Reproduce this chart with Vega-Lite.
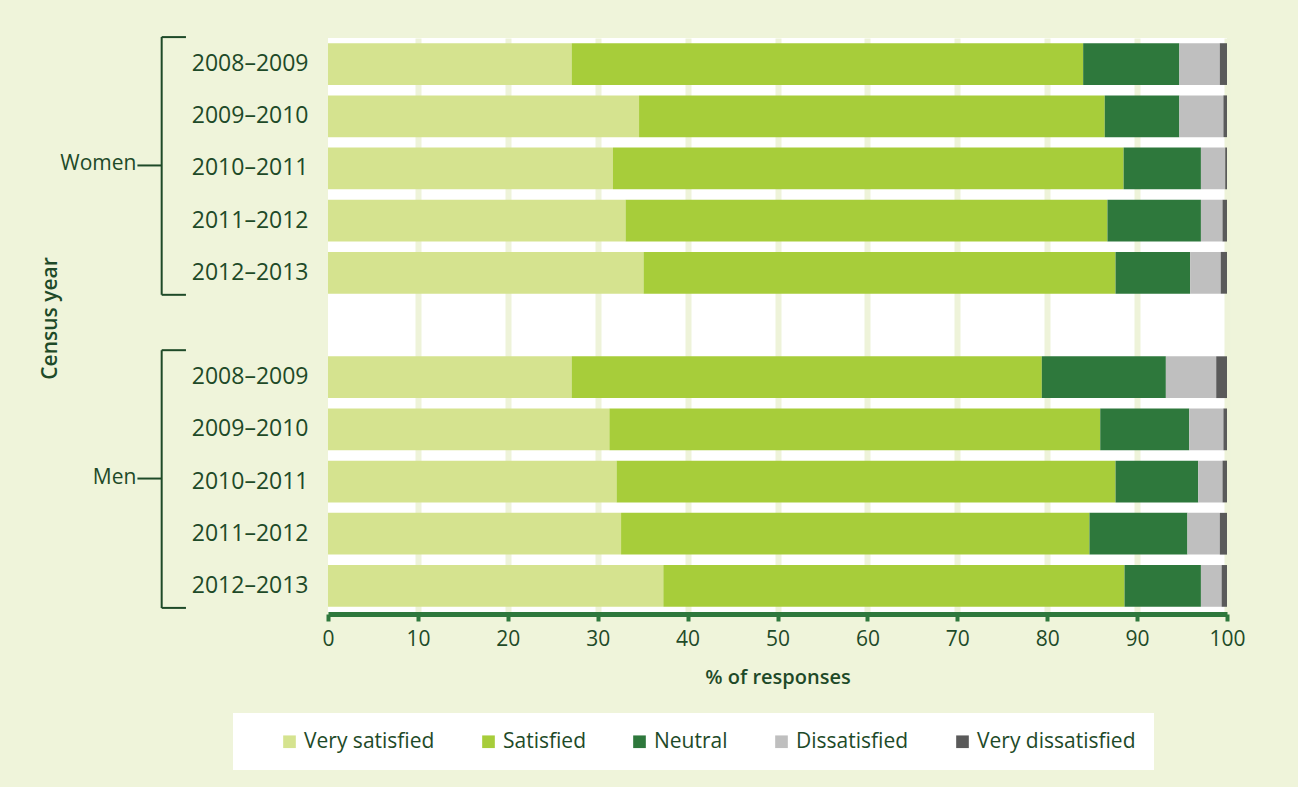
{
  "$schema": "https://vega.github.io/schema/vega-lite/v6.json",
  "autosize": {"type": "none"},
  "width": 899,
  "height": 574,
  "padding": {"left": 328, "top": 38, "right": 71, "bottom": 175},
  "background": "#eff4da",
  "config": {
    "view": {"fill": "white", "stroke": null},
    "font": "Open Sans",
    "text": {"font": "Open Sans"}
  },
  "datasets": {
    "bars": [
      {"row": "Women 2008–2009", "response": "Very satisfied", "rank": 1, "value": 27.1},
      {"row": "Women 2008–2009", "response": "Satisfied", "rank": 2, "value": 56.9},
      {"row": "Women 2008–2009", "response": "Neutral", "rank": 3, "value": 10.7},
      {"row": "Women 2008–2009", "response": "Dissatisfied", "rank": 4, "value": 4.5},
      {"row": "Women 2008–2009", "response": "Very dissatisfied", "rank": 5, "value": 0.8},
      {"row": "Women 2009–2010", "response": "Very satisfied", "rank": 1, "value": 34.6},
      {"row": "Women 2009–2010", "response": "Satisfied", "rank": 2, "value": 51.8},
      {"row": "Women 2009–2010", "response": "Neutral", "rank": 3, "value": 8.3},
      {"row": "Women 2009–2010", "response": "Dissatisfied", "rank": 4, "value": 4.9},
      {"row": "Women 2009–2010", "response": "Very dissatisfied", "rank": 5, "value": 0.4},
      {"row": "Women 2010–2011", "response": "Very satisfied", "rank": 1, "value": 31.7},
      {"row": "Women 2010–2011", "response": "Satisfied", "rank": 2, "value": 56.8},
      {"row": "Women 2010–2011", "response": "Neutral", "rank": 3, "value": 8.6},
      {"row": "Women 2010–2011", "response": "Dissatisfied", "rank": 4, "value": 2.7},
      {"row": "Women 2010–2011", "response": "Very dissatisfied", "rank": 5, "value": 0.2},
      {"row": "Women 2011–2012", "response": "Very satisfied", "rank": 1, "value": 33.1},
      {"row": "Women 2011–2012", "response": "Satisfied", "rank": 2, "value": 53.6},
      {"row": "Women 2011–2012", "response": "Neutral", "rank": 3, "value": 10.4},
      {"row": "Women 2011–2012", "response": "Dissatisfied", "rank": 4, "value": 2.4},
      {"row": "Women 2011–2012", "response": "Very dissatisfied", "rank": 5, "value": 0.5},
      {"row": "Women 2012–2013", "response": "Very satisfied", "rank": 1, "value": 35.1},
      {"row": "Women 2012–2013", "response": "Satisfied", "rank": 2, "value": 52.5},
      {"row": "Women 2012–2013", "response": "Neutral", "rank": 3, "value": 8.3},
      {"row": "Women 2012–2013", "response": "Dissatisfied", "rank": 4, "value": 3.4},
      {"row": "Women 2012–2013", "response": "Very dissatisfied", "rank": 5, "value": 0.7},
      {"row": "Men 2008–2009", "response": "Very satisfied", "rank": 1, "value": 27.1},
      {"row": "Men 2008–2009", "response": "Satisfied", "rank": 2, "value": 52.3},
      {"row": "Men 2008–2009", "response": "Neutral", "rank": 3, "value": 13.8},
      {"row": "Men 2008–2009", "response": "Dissatisfied", "rank": 4, "value": 5.6},
      {"row": "Men 2008–2009", "response": "Very dissatisfied", "rank": 5, "value": 1.2},
      {"row": "Men 2009–2010", "response": "Very satisfied", "rank": 1, "value": 31.3},
      {"row": "Men 2009–2010", "response": "Satisfied", "rank": 2, "value": 54.6},
      {"row": "Men 2009–2010", "response": "Neutral", "rank": 3, "value": 9.9},
      {"row": "Men 2009–2010", "response": "Dissatisfied", "rank": 4, "value": 3.8},
      {"row": "Men 2009–2010", "response": "Very dissatisfied", "rank": 5, "value": 0.4},
      {"row": "Men 2010–2011", "response": "Very satisfied", "rank": 1, "value": 32.1},
      {"row": "Men 2010–2011", "response": "Satisfied", "rank": 2, "value": 55.5},
      {"row": "Men 2010–2011", "response": "Neutral", "rank": 3, "value": 9.2},
      {"row": "Men 2010–2011", "response": "Dissatisfied", "rank": 4, "value": 2.7},
      {"row": "Men 2010–2011", "response": "Very dissatisfied", "rank": 5, "value": 0.5},
      {"row": "Men 2011–2012", "response": "Very satisfied", "rank": 1, "value": 32.6},
      {"row": "Men 2011–2012", "response": "Satisfied", "rank": 2, "value": 52.1},
      {"row": "Men 2011–2012", "response": "Neutral", "rank": 3, "value": 10.9},
      {"row": "Men 2011–2012", "response": "Dissatisfied", "rank": 4, "value": 3.6},
      {"row": "Men 2011–2012", "response": "Very dissatisfied", "rank": 5, "value": 0.8},
      {"row": "Men 2012–2013", "response": "Very satisfied", "rank": 1, "value": 37.3},
      {"row": "Men 2012–2013", "response": "Satisfied", "rank": 2, "value": 51.3},
      {"row": "Men 2012–2013", "response": "Neutral", "rank": 3, "value": 8.5},
      {"row": "Men 2012–2013", "response": "Dissatisfied", "rank": 4, "value": 2.3},
      {"row": "Men 2012–2013", "response": "Very dissatisfied", "rank": 5, "value": 0.6}
    ],
    "groups": [
      {"group": "Women", "first": "Women 2008–2009", "mid": "Women 2010–2011", "last": "Women 2012–2013"},
      {"group": "Men", "first": "Men 2008–2009", "mid": "Men 2010–2011", "last": "Men 2012–2013"}
    ]
  },
  "layer": [
    {
      "data": {"name": "bars"},
      "mark": {"type": "bar"},
      "encoding": {
        "y": {
          "field": "row",
          "type": "nominal",
          "title": "Census year",
          "scale": {
            "domain": ["Women 2008–2009", "Women 2009–2010", "Women 2010–2011", "Women 2011–2012", "Women 2012–2013", "gap", "Men 2008–2009", "Men 2009–2010", "Men 2010–2011", "Men 2011–2012", "Men 2012–2013"],
            "paddingInner": 0.2,
            "paddingOuter": 0.1
          },
          "axis": {
            "title": "Census year",
            "labelExpr": "datum.label == 'gap' ? '' : split(datum.label, ' ')[1]",
            "ticks": false,
            "tickSize": 0,
            "domain": false,
            "grid": false,
            "labelPadding": 20,
            "labelFontSize": 23,
            "labelColor": "#1e4a28",
            "labelFont": "Open Sans",
            "titleFont": "Open Sans",
            "titleFontSize": 21,
            "titleFontWeight": 600,
            "titleColor": "#1e4a28",
            "titleX": -268,
            "titleY": 280,
            "titleBaseline": "bottom",
            "titleAngle": -90
          }
        },
        "x": {
          "field": "value",
          "type": "quantitative",
          "title": "% of responses",
          "stack": "zero",
          "scale": {"domain": [0, 100], "nice": false},
          "axis": {
            "title": "% of responses",
            "values": [0, 10, 20, 30, 40, 50, 60, 70, 80, 90, 100],
            "offset": 2,
            "domainColor": "#2e783c",
            "domainWidth": 5,
            "tickColor": "#2e783c",
            "tickWidth": 4,
            "tickSize": 7,
            "labelFontSize": 21,
            "labelFont": "Open Sans",
            "labelColor": "#1e4a28",
            "labelPadding": 7,
            "labelFlush": false,
            "grid": true,
            "gridColor": "#eef3d9",
            "gridWidth": 6,
            "gridOpacity": {"condition": {"test": "datum.value == 0", "value": 0}, "value": 1},
            "titleFont": "Open Sans",
            "titleFontSize": 20,
            "titleFontWeight": 600,
            "titleColor": "#1e4a28",
            "titlePadding": 18
          }
        },
        "order": {"field": "rank", "type": "quantitative", "sort": "ascending"},
        "color": {
          "field": "response",
          "type": "nominal",
          "sort": ["Very satisfied", "Satisfied", "Neutral", "Dissatisfied", "Very dissatisfied"],
          "scale": {
            "domain": ["Very satisfied", "Satisfied", "Neutral", "Dissatisfied", "Very dissatisfied"],
            "range": ["#d5e38f", "#a7cd3a", "#2e783c", "#bfbfbf", "#5a5a5a"]
          },
          "legend": {
            "orient": "none",
            "legendX": -95,
            "legendY": 675,
            "direction": "horizontal",
            "title": " ",
            "titleOrient": "left",
            "titleFontSize": 20,
            "titlePadding": 28,
            "padding": 18,
            "fillColor": "white",
            "symbolType": "square",
            "symbolSize": 160,
            "symbolStrokeWidth": 0,
            "symbolOpacity": 1,
            "labelFont": "Open Sans",
            "labelFontSize": 21,
            "labelColor": "#1e4a28",
            "labelOffset": 4,
            "columnPadding": 43
          }
        }
      }
    },
    {
      "data": {"name": "groups"},
      "mark": {"type": "rule", "color": "#1e4a28", "strokeWidth": 2, "yOffset": -27, "y2Offset": 22},
      "encoding": {
        "x": {"datum": -18.5, "type": "quantitative", "title": "% of responses"},
        "y": {"field": "first", "type": "nominal", "title": "Census year"},
        "y2": {"field": "last"}
      }
    },
    {
      "data": {"name": "groups"},
      "mark": {"type": "rule", "color": "#1e4a28", "strokeWidth": 2, "yOffset": -27},
      "encoding": {
        "x": {"datum": -18.5, "type": "quantitative", "title": "% of responses"},
        "x2": {"datum": -15.8},
        "y": {"field": "first", "type": "nominal", "title": "Census year"}
      }
    },
    {
      "data": {"name": "groups"},
      "mark": {"type": "rule", "color": "#1e4a28", "strokeWidth": 2, "yOffset": 22},
      "encoding": {
        "x": {"datum": -18.5, "type": "quantitative", "title": "% of responses"},
        "x2": {"datum": -15.8},
        "y": {"field": "last", "type": "nominal", "title": "Census year"}
      }
    },
    {
      "data": {"name": "groups"},
      "mark": {"type": "rule", "color": "#1e4a28", "strokeWidth": 2, "yOffset": -3},
      "encoding": {
        "x": {"datum": -21.2, "type": "quantitative", "title": "% of responses"},
        "x2": {"datum": -18.5},
        "y": {"field": "mid", "type": "nominal", "title": "Census year"}
      }
    },
    {
      "data": {"name": "groups"},
      "mark": {"type": "text", "align": "right", "baseline": "middle", "font": "Open Sans", "fontSize": 21, "color": "#1e4a28", "dx": -1, "dy": -4},
      "encoding": {
        "x": {"datum": -21.2, "type": "quantitative", "title": "% of responses"},
        "y": {"field": "mid", "type": "nominal", "title": "Census year"},
        "text": {"field": "group"}
      }
    }
  ]
}
